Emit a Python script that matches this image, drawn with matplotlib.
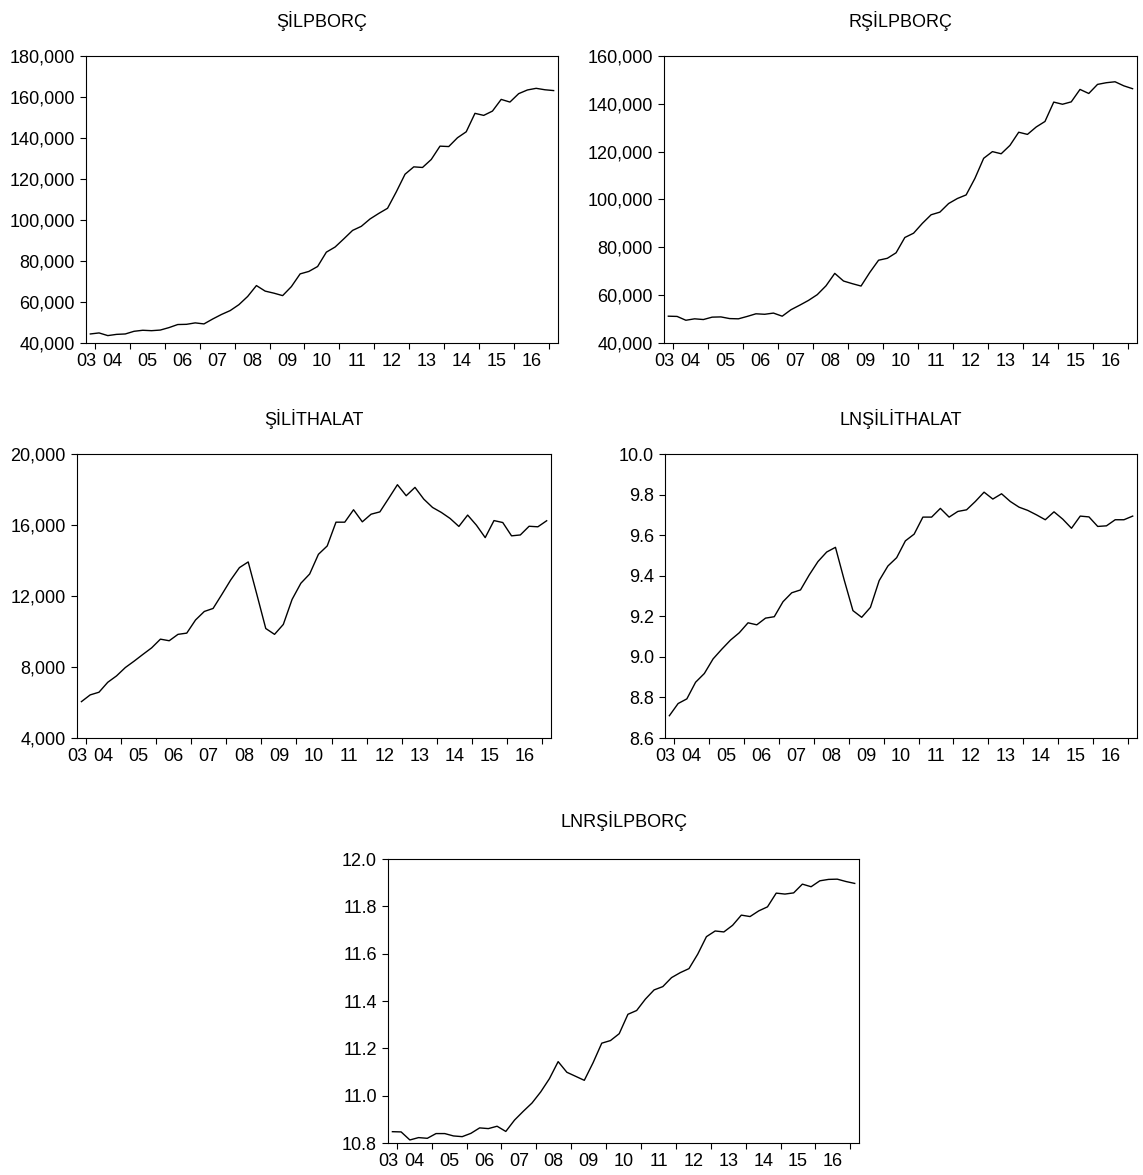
import numpy as np
import pandas as pd
import matplotlib
matplotlib.use("Agg")
import matplotlib.pyplot as plt
from matplotlib.ticker import FuncFormatter, FixedLocator

plt.rcParams['font.family'] = ['Liberation Sans', 'DejaVu Sans']

# quarterly sample, 2003Q4 - 2017Q1
quarters = pd.period_range("2003Q4", "2017Q1", freq="Q")

silpborc = [44400, 44900, 43600, 44200, 44400, 45700, 46200, 46000, 46300, 47500,
            49000, 49100, 49800, 49300, 51700, 53900, 55800, 58700, 62700, 68000,
            65300, 64300, 63100, 67500, 73700, 74900, 77300, 84300, 86800, 90800,
            94900, 96900, 100500, 103200, 105700, 113700, 122300, 125900, 125600, 129500,
            136000, 135800, 140100, 143000, 152000, 151000, 153100, 158800, 157500, 161600,
            163400, 164200, 163500, 163100]

rsilpborc = [51200, 51100, 49500, 50100, 49800, 50800, 50900, 50200, 50100, 51100,
             52200, 52000, 52500, 51200, 53900, 55800, 57800, 60200, 63900, 69100,
             65900, 64800, 63800, 69500, 74600, 75400, 77700, 84100, 85900, 90000,
             93600, 94700, 98300, 100400, 101900, 108800, 117200, 120000, 119100, 122600,
             128100, 127200, 130300, 132600, 140700, 139800, 140800, 146000, 144300, 148100,
             148800, 149200, 147500, 146300]

silithalat = [6050, 6430, 6580, 7140, 7500, 7970, 8330, 8710, 9080, 9570,
              9480, 9840, 9910, 10650, 11130, 11300, 12090, 12900, 13600, 13920,
              12060, 10170, 9840, 10400, 11810, 12720, 13240, 14350, 14820, 16160,
              16160, 16860, 16180, 16610, 16740, 17500, 18270, 17650, 18120, 17460,
              16990, 16710, 16370, 15920, 16560, 15990, 15290, 16250, 16140, 15390,
              15440, 15930, 15900, 16240]

lnsilithalat = [8.710, 8.770, 8.793, 8.875, 8.918, 8.990, 9.038, 9.083, 9.119, 9.168,
                9.158, 9.191, 9.198, 9.272, 9.316, 9.330, 9.404, 9.470, 9.517, 9.540,
                9.379, 9.228, 9.195, 9.244, 9.376, 9.448, 9.489, 9.572, 9.605, 9.689,
                9.689, 9.732, 9.689, 9.717, 9.725, 9.766, 9.812, 9.778, 9.804, 9.766,
                9.738, 9.722, 9.700, 9.676, 9.715, 9.679, 9.634, 9.694, 9.690, 9.643,
                9.646, 9.676, 9.676, 9.694]

lnrsilpborc = [10.848, 10.847, 10.813, 10.823, 10.820, 10.840, 10.840, 10.830, 10.827, 10.841,
               10.864, 10.861, 10.871, 10.849, 10.897, 10.934, 10.969, 11.016, 11.072, 11.144,
               11.099, 11.082, 11.065, 11.139, 11.222, 11.233, 11.262, 11.344, 11.360, 11.408,
               11.447, 11.461, 11.499, 11.520, 11.537, 11.598, 11.672, 11.696, 11.692, 11.720,
               11.763, 11.757, 11.781, 11.798, 11.856, 11.852, 11.857, 11.894, 11.883, 11.908,
               11.914, 11.915, 11.905, 11.897]

# (title, values, y ticks, formatter, axes rect in figure fraction, title pad)
comma = FuncFormatter(lambda v, p: f"{v:,.0f}")
onedec = FuncFormatter(lambda v, p: f"{v:.1f}")
panels = [
    ("ŞİLPBORÇ", silpborc, np.arange(40000, 180001, 20000), comma,
     [0.0752, 0.7081, 0.4130, 0.2443], 21),
    ("RŞİLPBORÇ", rsilpborc, np.arange(40000, 160001, 20000), comma,
     [0.5809, 0.7081, 0.4138, 0.2443], 21),
    ("ŞİLİTHALAT", silithalat, np.arange(4000, 20001, 4000), comma,
     [0.0674, 0.3719, 0.4147, 0.2417], 21),
    ("LNŞİLİTHALAT", lnsilithalat, np.arange(8.6, 10.01, 0.2), onedec,
     [0.5818, 0.3719, 0.4130, 0.2417], 21),
    ("LNRŞİLPBORÇ", lnrsilpborc, np.arange(10.8, 12.01, 0.2), onedec,
     [0.3395, 0.0272, 0.4121, 0.2417], 23),
]

x = np.arange(len(quarters))
year_starts = [i - 0.5 for i, q in enumerate(quarters) if q.quarter == 1]
label_pos = [-0.45] + [s + 2 for s in year_starts]
label_txt = [f"{quarters[0].year % 100:02d}"] + \
            [f"{quarters[int(s + 0.5)].year % 100:02d}" for s in year_starts]
# last year-start tick opens the final partial year; no label for it
label_pos, label_txt = label_pos[:-1], label_txt[:-1]

fig = plt.figure(figsize=(11.43, 11.75), dpi=100)

for title, vals, yt, fmt, rect, pad in panels:
    ax = fig.add_axes(rect)
    ax.plot(x, vals, color="black", lw=1.0)
    ax.set_xlim(-0.5, len(quarters) - 0.5)
    ax.set_ylim(yt[0], yt[-1])
    ax.set_yticks(yt)
    ax.yaxis.set_major_formatter(fmt)
    ax.xaxis.set_major_locator(FixedLocator(year_starts))
    ax.xaxis.set_major_formatter(FuncFormatter(lambda v, p: ""))
    ax.xaxis.set_minor_locator(FixedLocator(label_pos))
    ax.xaxis.set_minor_formatter(FuncFormatter(lambda v, p: label_txt[p]))
    ax.tick_params(axis="both", which="major", direction="out", length=4,
                   width=0.8, labelsize=13)
    ax.tick_params(axis="y", which="major", pad=4)
    ax.tick_params(axis="x", which="minor", length=0, labelsize=13, pad=7)
    for s in ax.spines.values():
        s.set_linewidth(0.8)
    ax.set_title(title, fontsize=13, pad=pad)

fig.savefig("out.png", dpi=100)
